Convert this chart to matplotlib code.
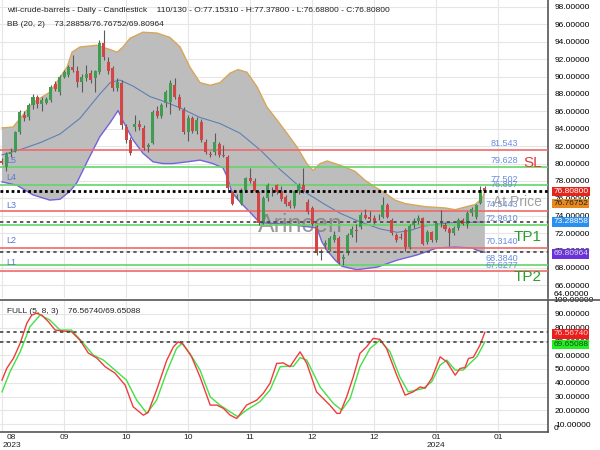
import matplotlib.pyplot as plt
import matplotlib.transforms as mtransforms
from matplotlib.lines import Line2D
from matplotlib.ticker import FormatStrFormatter

plt.rcParams['font.family'] = ['Liberation Sans', 'DejaVu Sans']

# daily candles, bar index 0..109
opens = [80.3, 79.6, 81.1, 81.5, 83.6, 85.6, 85.3, 86.7, 87.6, 86.8,
         87.0, 87.3, 89.2, 88.2, 90.0, 90.2, 91.1, 90.6, 89.4, 89.8,
         90.4, 89.8, 90.5, 93.9, 91.7, 91.0, 88.7, 89.3, 84.2, 82.7,
         84.2, 84.6, 84.1, 81.9, 82.4, 86.0, 85.5, 87.0, 87.1, 89.0,
         87.6, 86.2, 83.6, 85.2, 83.7, 84.8, 82.5, 81.1, 81.3, 82.2,
         81.0, 80.8, 76.7, 76.2, 75.4, 77.0, 78.3, 78.0, 76.6, 73.2,
         76.0, 76.9, 77.5, 76.8, 76.2, 75.6, 75.1, 76.8, 77.5, 75.6,
         74.9, 72.7, 69.7, 70.6, 70.1, 71.2, 71.5, 69.0, 69.7, 71.8,
         72.4, 72.7, 74.1, 73.9, 73.8, 73.7, 73.9, 75.2, 73.5, 71.8,
         71.6, 72.4, 70.4, 72.9, 73.4, 73.7, 71.0, 72.1, 71.2, 73.1,
         72.9, 72.5, 72.0, 72.6, 73.5, 73.1, 74.3, 73.9, 75.5, 77.1531]
highs = [80.6, 81.3, 81.8, 83.8, 86.2, 86.0, 87.0, 88.0, 87.9, 87.6,
         87.6, 89.0, 89.5, 90.2, 90.8, 91.3, 92.5, 91.2, 90.3, 91.3,
         90.8, 90.8, 94.2, 95.3, 92.3, 91.2, 89.8, 89.6, 84.6, 83.0,
         85.6, 85.0, 84.4, 82.4, 86.2, 86.6, 87.0, 88.4, 89.6, 89.8,
         88.0, 86.5, 85.6, 85.5, 85.3, 85.1, 82.8, 81.5, 83.5, 82.5,
         82.1, 81.0, 76.9, 76.5, 77.2, 78.5, 79.5, 78.3, 76.8, 76.3,
         77.8, 77.3, 77.7, 77.4, 76.4, 75.8, 77.0, 77.8, 79.5, 75.9,
         75.1, 72.9, 70.2, 71.2, 71.7, 72.2, 71.7, 69.6, 72.0, 72.8,
         73.0, 74.4, 74.8, 74.6, 74.1, 74.2, 76.2, 75.5, 73.8, 72.0,
         72.0, 72.6, 73.0, 73.7, 74.1, 73.9, 72.4, 72.3, 73.4, 74.7,
         73.3, 72.7, 72.8, 73.8, 73.7, 74.6, 75.0, 75.4, 77.4, 77.378]
lows = [79.9, 79.2, 80.7, 81.3, 83.4, 84.9, 85.0, 86.3, 86.4, 86.0,
        86.8, 87.1, 88.3, 87.9, 89.8, 90.0, 90.5, 88.8, 88.2, 89.5,
        89.3, 88.2, 90.3, 91.9, 90.3, 88.3, 88.3, 84.0, 82.4, 81.0,
        83.8, 83.9, 81.6, 81.3, 82.2, 85.2, 85.2, 86.5, 85.7, 87.4,
        86.2, 83.4, 82.6, 83.5, 83.4, 82.5, 81.1, 80.7, 81.0, 80.8,
        80.7, 77.0, 75.2, 75.9, 75.2, 76.8, 77.8, 76.7, 72.9, 73.0,
        75.7, 76.3, 76.5, 75.7, 75.1, 74.9, 74.9, 76.5, 76.6, 74.2,
        72.8, 69.5, 68.9, 70.2, 69.9, 71.0, 68.5, 68.4, 69.5, 71.6,
        71.0, 72.5, 73.6, 73.3, 73.1, 73.5, 73.7, 73.7, 71.8, 71.0,
        71.3, 69.9, 70.2, 72.6, 73.1, 70.6, 70.8, 71.0, 71.0, 72.7,
        72.3, 70.5, 71.8, 72.4, 72.9, 72.6, 74.0, 73.6, 75.3, 76.688]
closes = [80.1, 81.1, 81.3, 83.6, 85.9, 85.2, 86.7, 87.7, 86.8, 87.3,
          87.4, 88.8, 88.6, 90.0, 90.5, 91.1, 90.7, 89.4, 89.9, 90.3,
          89.6, 90.6, 93.9, 92.2, 90.6, 88.7, 89.4, 84.4, 82.7, 81.2,
          84.6, 84.2, 81.8, 82.1, 85.9, 85.5, 86.7, 88.2, 89.3, 87.7,
          86.4, 83.6, 85.2, 83.7, 85.0, 82.7, 81.3, 81.0, 82.5, 81.0,
          80.9, 77.2, 75.4, 76.3, 77.0, 78.3, 78.0, 76.9, 73.2, 76.0,
          77.5, 76.8, 76.7, 75.9, 75.3, 75.1, 76.8, 77.5, 76.8, 74.4,
          73.0, 69.7, 69.9, 70.9, 71.5, 71.8, 68.7, 69.3, 71.8, 72.5,
          72.2, 74.1, 73.8, 73.6, 73.4, 73.8, 75.2, 73.9, 72.0, 71.2,
          71.5, 70.4, 72.8, 73.4, 73.8, 70.8, 72.1, 71.2, 73.2, 73.0,
          72.5, 72.0, 72.6, 73.5, 73.1, 74.3, 74.8, 75.2, 77.0, 76.808]

# Bollinger bands (20, 2)
bb_up_x = [0, 2.5, 7.0, 10.8, 14.7, 15.8, 17.6, 21.4, 24.4, 26.0, 27.3, 28.9,
           31.8, 35.0, 37.9, 40.2, 42.4, 44.7, 47.0, 49.2, 51.5, 53.3, 55.3,
           57.6, 59.8, 62.1, 64.3, 66.6, 68.8, 70.2, 71.8, 73.4, 75.2, 77.4,
           79.7, 81.9, 84.2, 86.5, 88.7, 91.0, 95.5, 100.0, 102.3, 104.5,
           106.8, 108.4, 109]
bb_up = [84.1, 84.2, 87.0, 88.2, 91.1, 92.8, 93.4, 93.6, 93.1, 92.8, 93.4, 94.4,
         95.1, 95.0, 94.5, 93.4, 91.1, 89.3, 89.0, 89.3, 90.4, 90.8, 90.5,
         88.8, 86.5, 85.0, 83.5, 81.9, 80.0, 79.2, 80.0, 80.3, 80.0, 79.6,
         79.1, 78.1, 77.3, 76.6, 75.8, 75.4, 75.05, 74.9, 74.7, 75.0,
         75.3, 76.0, 76.76752]
bb_lo_x = [0, 3.4, 7.0, 10.8, 13.1, 15.3, 16.9, 19.4, 22.1, 24.4, 26.2, 27.3,
           29.6, 31.8, 34.1, 36.3, 38.6, 41.8, 44.7, 47.6, 49.9, 50.8, 51.9,
           53.7, 56.0, 58.2, 65.0, 71.1, 72.2, 73.4, 75.2, 76.7, 80.1, 84.7,
           89.2, 93.7, 98.2, 102.3, 106.1, 107.4, 109]
bb_lo = [77.9, 77.5, 76.4, 75.8, 75.9, 76.8, 77.8, 80.4, 83.1, 84.7, 86.1, 84.9,
         82.7, 81.2, 80.2, 80.0, 80.0, 80.2, 80.4, 80.0, 79.5, 78.5, 76.7,
         75.6, 74.4, 73.2, 73.0, 72.6, 71.0, 70.0, 68.9, 68.2, 67.8, 68.1,
         68.9, 69.5, 70.3, 70.4, 70.3, 70.0, 69.80964]
bb_mid_x = [0, 4.1, 8.6, 13.1, 17.6, 22.1, 24.4, 26.6, 29.6, 33.4, 36.8, 40.2,
            44.7, 49.2, 53.7, 58.2, 62.8, 67.3, 68.8, 72.9, 76.3, 80.8, 85.3,
            89.2, 92.1, 95.0, 101.1, 109]
bb_mid = [81.0, 81.6, 82.4, 83.4, 85.2, 88.0, 89.3, 89.6, 88.9, 87.7, 87.1, 86.4,
          85.3, 84.6, 83.5, 81.6, 79.3, 77.3, 76.6, 75.3, 74.3, 73.3, 72.5,
          72.1, 72.3, 72.8, 73.2, 73.28858]

# stochastic FULL (5, 8, 3)
stk_x = [0, 1.1, 2.6, 4.1, 5.6, 6.7, 7.8, 9.0, 10.5, 12.0, 13.8, 15.7, 17.6,
         19.5, 21.4, 23.3, 25.5, 27.8, 29.6, 31.9, 33.0, 34.9, 37.2, 38.7,
         39.8, 40.9, 42.8, 44.7, 47.0, 48.5, 50.0, 51.5, 53.0, 55.2, 57.5,
         59.0, 60.5, 62.0, 63.5, 65.0, 66.5, 67.3, 68.8, 71.0, 74.0, 75.6,
         76.3, 77.8, 79.3, 80.8, 82.3, 83.8, 85.3, 86.8, 89.1, 91.0, 92.8,
         94.4, 95.5, 97.0, 98.9, 100.4, 102.3, 103.4, 104.5, 105.3, 106.4,
         107.9, 109]
stk_k = [41.9, 50.6, 57.8, 68.6, 83.1, 89.0, 90.4, 89.0, 84.2, 78.2, 77.5, 77.0,
         70.9, 61.5, 57.9, 51.6, 47.0, 38.3, 22.6, 16.5, 18.5, 34.7, 56.4,
         66.1, 69.7, 68.0, 58.8, 44.3, 23.8, 23.8, 21.4, 16.5, 14.1, 23.8,
         27.4, 32.4, 39.6, 54.0, 54.4, 51.6, 58.8, 62.4, 54.0, 33.4, 23.8,
         17.8, 17.8, 29.8, 44.3, 61.3, 66.1, 72.2, 71.5, 64.9, 45.5, 31.0,
         33.4, 37.0, 36.0, 43.1, 58.8, 55.2, 45.5, 50.4, 51.0, 57.6, 58.5,
         67.3, 76.5674]
std_x = [0, 1.8, 4.1, 6.3, 8.6, 10.8, 13.1, 15.7, 18.4, 20.6, 22.9, 25.5, 28.1,
         30.4, 32.7, 34.9, 37.2, 39.4, 40.6, 42.4, 44.7, 47.0, 49.2, 51.5,
         53.3, 55.2, 58.2, 60.5, 62.8, 64.3, 65.8, 67.3, 68.8, 71.8, 74.8,
         76.7, 78.6, 80.8, 83.1, 85.3, 87.6, 89.8, 91.7, 93.6, 95.1, 97.0,
         98.9, 100.4, 102.3, 104.1, 105.6, 107.2, 109]
std_d = [33.4, 47.9, 62.4, 80.6, 89.1, 85.5, 78.2, 78.2, 68.5, 60.1, 56.4, 49.2,
         41.9, 27.4, 17.8, 27.4, 47.9, 64.9, 68.5, 61.3, 49.2, 29.8, 23.8,
         18.9, 15.3, 20.2, 26.2, 34.7, 51.6, 52.0, 52.0, 58.2, 56.4, 37.0,
         25.0, 20.2, 28.6, 51.6, 64.9, 70.9, 62.4, 44.3, 33.4, 34.7, 35.9,
         40.7, 52.8, 56.4, 49.2, 49.2, 54.0, 58.8, 69.65088]

# levels drawn across the chart
red_levels = [81.543, 74.5443, 70.3140, 67.6277]
green_levels = [79.628, 77.502, 72.9610, 68.3840]
level_texts = ["81.543", "79.628", "77.502", "76.897", "74.5443",
               "72.9610", "70.3140", "68.3840", "67.6277"]
level_vals = [81.543, 79.628, 77.502, 76.897, 74.5443, 72.9610, 70.3140,
              68.3840, 67.6277]
side_labels = ["L5", "L4", "L3", "L2", "L1"]
side_vals = [80.4, 78.4, 75.16, 71.14, 68.61]

grid_bars = [0, 14, 28, 42, 56, 70, 84, 98, 112]
month_labels = ["08", "09", "10", "10", "11", "12", "12", "01", "01"]

last_close = 76.808
bb_last = (73.28858, 76.76752, 69.80964)
stoch_last = (76.56740, 69.65088)

fig = plt.figure(figsize=(6, 4.5), dpi=100)
ax = fig.add_axes([0, 152 / 450, 548 / 600, 298 / 450])
ax2 = fig.add_axes([0, 18 / 450, 548 / 600, 132 / 450])

xlim = (-0.45, 123.25)
grid_col = '#e6e6e6'

# ---- price panel ----
ax.set_xlim(*xlim)
ax.set_ylim(64.55, 98.8)
ax.set_yticks(range(66, 99, 2))
ax.set_xticks(grid_bars)
ax.grid(True, color=grid_col, lw=0.8)
ax.set_axisbelow(True)
ax.yaxis.set_major_formatter(FormatStrFormatter('%.5f'))
ax.tick_params(axis='y', length=0, pad=5, labelsize=6, labelright=True,
               labelleft=False)
ax.tick_params(axis='x', length=0, labelbottom=False)
for s in ['left', 'top', 'bottom']:
    ax.spines[s].set_visible(False)
ax.spines['right'].set_color('#555555')
ax.spines['right'].set_linewidth(1.2)

poly_x = bb_up_x + bb_lo_x[::-1]
poly_y = bb_up + bb_lo[::-1]
ax.fill(poly_x, poly_y, color='#bdbdbd', lw=0, zorder=1)
ax.plot(bb_up_x, bb_up, color='#d8a658', lw=1, zorder=2)
ax.plot(bb_lo_x, bb_lo, color='#7262dc', lw=1, zorder=2)
ax.plot(bb_mid_x, bb_mid, color='#5e80b4', lw=0.8, zorder=2)

ax.text(57.8, 72.94, "Arincen", fontsize=18, color='#7a7a7a', alpha=0.75,
        va='center', ha='left', zorder=2.5)

for v in red_levels:
    ax.axhline(v, color='#ee6a6a', lw=1.2, zorder=3)
for v in green_levels:
    ax.axhline(v, color='#66d466', lw=1.2, zorder=3)

for i in range(len(opens)):
    o, h, l, c = opens[i], highs[i], lows[i], closes[i]
    col = '#3f9d52' if c >= o else '#d44646'
    ax.vlines(i, l, h, color='#5a5a5a', lw=0.8, zorder=4)
    ax.bar(i, max(abs(c - o), 0.1), bottom=min(o, c), width=0.68,
           color=col, lw=0, zorder=4.5)

ax.axhline(last_close, color='black', lw=2, ls=(0, (1, 1)), zorder=5)
ax.axhline(bb_last[0], color='#444444', lw=1.2, ls=(0, (2, 2)), zorder=5)
ax.axhline(bb_last[2], color='#444444', lw=1.2, ls=(0, (2, 2)), zorder=5)

for t, v in zip(level_texts, level_vals):
    ax.annotate(t, (116.5, v), xytext=(0, 1.2), textcoords='offset points',
                ha='right', va='bottom', fontsize=6.5, color='#6a8de0',
                zorder=6)
for t, v in zip(side_labels, side_vals):
    ax.text(1.0, v, t, fontsize=6.5, color='#5a78d0', va='center',
            ha='left', zorder=6)

ax.text(121.9, 80.07, "SL", fontsize=11, color='#e03a3a', ha='right',
        va='center', zorder=6)
ax.text(121.9, 75.59, "At Price", fontsize=10, color='#a0a0a0', ha='right',
        va='center', zorder=6)
ax.text(121.9, 71.56, "TP1", fontsize=11, color='#2aa02a', ha='right',
        va='center', zorder=6)
ax.text(121.9, 66.97, "TP2", fontsize=11, color='#2aa02a', ha='right',
        va='center', zorder=6)

trans = mtransforms.blended_transform_factory(ax.transAxes, ax.transData)
box_x = 1.0095
box_style = 'square,pad=0.15'
ax.text(box_x, 0.0, "64.00000", transform=ax.transAxes, fontsize=6,
        va='bottom', ha='left')
ax.text(box_x, last_close, "76.80800", transform=trans, fontsize=6,
        color='white', va='center', ha='left', zorder=7,
        bbox=dict(boxstyle=box_style, fc='#e3261c', ec='none'))
ax.annotate("76.76752", (box_x, bb_last[1]), xycoords=trans,
            xytext=(0, -8.5), textcoords='offset points', fontsize=6,
            color='#222222', va='center', ha='left', zorder=7,
            bbox=dict(boxstyle=box_style, fc='#e8891e', ec='none'))
ax.text(box_x, bb_last[0], "73.28858", transform=trans, fontsize=6,
        color='white', va='center', ha='left', zorder=7,
        bbox=dict(boxstyle=box_style, fc='#2b8ff0', ec='none'))
ax.annotate("69.80964", (box_x, bb_last[2]), xycoords=trans,
            xytext=(0, -1.2), textcoords='offset points', fontsize=6,
            color='#dddddd', va='center', ha='left', zorder=7,
            bbox=dict(boxstyle=box_style, fc='#6a32dc', ec='none'))

fig.text(7 / 600, 1 - 10 / 450,
         "wti-crude-barrels - Daily - Candlestick    110/130 - O:77.15310 - "
         "H:77.37800 - L:76.68800 - C:76.80800",
         fontsize=6, va='center', ha='left', color='#222222')
fig.text(7 / 600, 1 - 25 / 450, "BB (20, 2)    73.28858/76.76752/69.80964",
         fontsize=6, va='center', ha='left', color='#222222')

# ---- stochastic panel ----
ax2.set_xlim(*xlim)
ax2.set_ylim(4.3, 100)
ax2.set_yticks(range(10, 100, 10))
ax2.set_xticks(grid_bars)
ax2.grid(True, color=grid_col, lw=0.8)
ax2.set_axisbelow(True)
ax2.yaxis.set_major_formatter(FormatStrFormatter('%.5f'))
ax2.tick_params(axis='y', length=0, pad=5, labelsize=6, labelright=True,
                labelleft=False)
ax2.tick_params(axis='x', length=0, labelbottom=False)
for s in ['left', 'top']:
    ax2.spines[s].set_visible(False)
for s in ['right', 'bottom']:
    ax2.spines[s].set_color('#555555')
    ax2.spines[s].set_linewidth(1.2)

ax2.plot(std_x, std_d, color='#44e044', lw=1, zorder=3)
ax2.plot(stk_x, stk_k, color='#f03c3c', lw=1, zorder=3)
ax2.axhline(stoch_last[0], color='#444444', lw=1.2, ls=(0, (2, 2)), zorder=4)
ax2.axhline(stoch_last[1], color='#444444', lw=1.2, ls=(0, (2, 2)), zorder=4)

trans2 = mtransforms.blended_transform_factory(ax2.transAxes, ax2.transData)
ax2.text(box_x, 1.0, "100.00000", transform=ax2.transAxes, fontsize=6,
         va='center', ha='left')
ax2.text(box_x, 0.0, "0", transform=ax2.transAxes, fontsize=6,
         va='bottom', ha='left')
ax2.annotate("76.56740", (box_x, stoch_last[0]), xycoords=trans2,
             xytext=(0, -1.2), textcoords='offset points', fontsize=6,
             color='#f2dada', va='center', ha='left', zorder=7,
             bbox=dict(boxstyle=box_style, fc='#ee1c1c', ec='none'))
ax2.annotate("69.65088", (box_x, stoch_last[1]), xycoords=trans2,
             xytext=(0, -2.0), textcoords='offset points', fontsize=6,
             color='#1a4a1a', va='center', ha='left', zorder=7,
             bbox=dict(boxstyle=box_style, fc='#22ee22', ec='none'))
ax2.text(0.012, 0.915, "FULL (5, 8, 3)    76.56740/69.65088",
         transform=ax2.transAxes, fontsize=6, va='center', ha='left',
         color='#222222')

# month labels under the lower panel
xt = mtransforms.blended_transform_factory(ax2.transData, ax2.transAxes)
for b, m in zip(grid_bars, month_labels):
    shift = 2.2 if b == 0 else 0
    ax2.text(b + shift, -0.038, m, transform=xt, fontsize=6,
             va='center', ha='center', color='#222222')
ax2.text(0.2, -0.1, "2023", transform=xt, fontsize=6, va='center',
         ha='left', color='#222222')
ax2.text(98, -0.1, "2024", transform=xt, fontsize=6, va='center',
         ha='center', color='#222222')

# separator between the two panels runs across the whole width
fig.add_artist(Line2D([0, 1], [1 - 300 / 450, 1 - 300 / 450],
                      color='#555555', lw=1.2))

fig.savefig('out.png', dpi=100)
